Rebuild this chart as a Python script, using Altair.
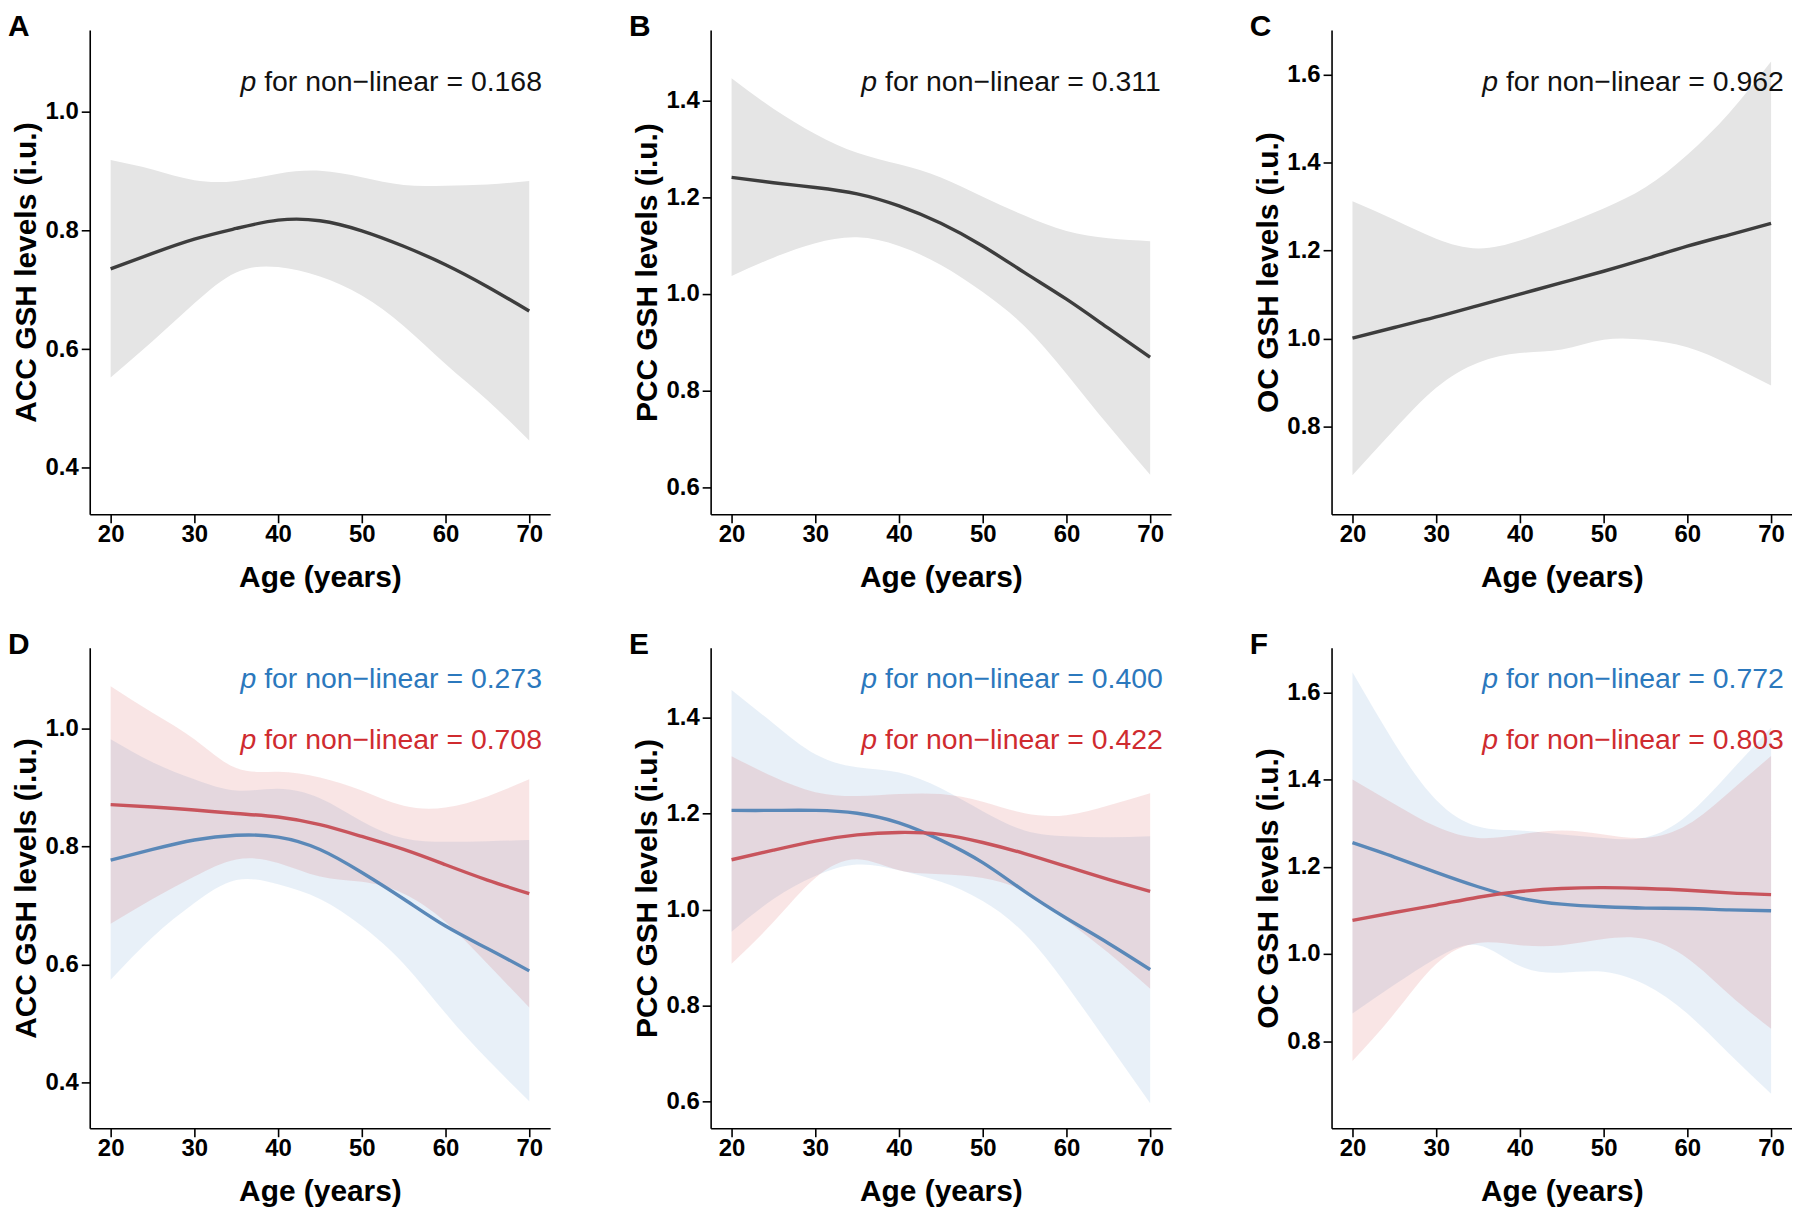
import altair as alt
import pandas as pd

# ---------------- data ----------------
ages = [20, 25, 30, 35, 40, 45, 50, 55, 60, 65, 70]

# Panel A: ACC, all
a_fit = [0.735, 0.761, 0.785, 0.803, 0.817, 0.816, 0.799, 0.773, 0.742, 0.705, 0.664]
a_hi = [0.918, 0.902, 0.884, 0.883, 0.895, 0.900, 0.889, 0.876, 0.875, 0.877, 0.883]
a_lo = [0.552, 0.613, 0.677, 0.729, 0.738, 0.722, 0.690, 0.639, 0.575, 0.514, 0.446]

# Panel B: PCC, all
b_fit = [1.241, 1.230, 1.220, 1.207, 1.182, 1.146, 1.099, 1.044, 0.989, 0.929, 0.869]
b_hi = [1.446, 1.383, 1.331, 1.292, 1.268, 1.241, 1.201, 1.162, 1.130, 1.115, 1.109]
b_lo = [1.037, 1.075, 1.105, 1.117, 1.099, 1.060, 1.004, 0.933, 0.835, 0.728, 0.626]

# Panel C: OC, all
c_fit = [1.001, 1.025, 1.049, 1.075, 1.101, 1.127, 1.153, 1.181, 1.210, 1.236, 1.262]
c_hi = [1.312, 1.270, 1.227, 1.205, 1.223, 1.257, 1.296, 1.344, 1.418, 1.513, 1.630]
c_lo = [0.689, 0.793, 0.888, 0.945, 0.967, 0.975, 0.997, 0.997, 0.980, 0.941, 0.893]

# Panel D: ACC, blue / red groups
d_blue_fit = [0.777, 0.795, 0.811, 0.819, 0.816, 0.795, 0.756, 0.711, 0.665, 0.627, 0.589]
d_blue_hi = [0.982, 0.943, 0.914, 0.895, 0.898, 0.882, 0.843, 0.814, 0.808, 0.809, 0.811]
d_blue_lo = [0.574, 0.646, 0.704, 0.743, 0.736, 0.711, 0.665, 0.601, 0.517, 0.439, 0.368]
d_red_fit = [0.871, 0.867, 0.862, 0.856, 0.850, 0.837, 0.817, 0.795, 0.769, 0.743, 0.720]
d_red_hi = [1.072, 1.027, 0.982, 0.933, 0.927, 0.917, 0.895, 0.869, 0.866, 0.885, 0.914]
d_red_lo = [0.669, 0.711, 0.749, 0.778, 0.772, 0.749, 0.740, 0.720, 0.672, 0.601, 0.527]

# Panel E: PCC, blue / red groups
e_blue_fit = [1.207, 1.207, 1.207, 1.201, 1.181, 1.145, 1.098, 1.038, 0.982, 0.930, 0.875]
e_blue_hi = [1.458, 1.388, 1.324, 1.297, 1.286, 1.253, 1.205, 1.165, 1.153, 1.151, 1.153]
e_blue_lo = [0.954, 1.022, 1.070, 1.094, 1.082, 1.058, 1.018, 0.950, 0.843, 0.720, 0.596]
e_red_fit = [1.104, 1.124, 1.143, 1.156, 1.161, 1.157, 1.140, 1.117, 1.090, 1.063, 1.038]
e_red_hi = [1.320, 1.277, 1.245, 1.237, 1.241, 1.241, 1.225, 1.201, 1.197, 1.217, 1.243]
e_red_lo = [0.887, 0.974, 1.066, 1.105, 1.082, 1.074, 1.066, 1.038, 0.978, 0.910, 0.835]

# Panel F: OC, blue / red groups
f_blue_fit = [1.255, 1.222, 1.187, 1.154, 1.128, 1.114, 1.108, 1.105, 1.104, 1.101, 1.099]
f_blue_hi = [1.646, 1.484, 1.353, 1.292, 1.283, 1.274, 1.266, 1.267, 1.318, 1.415, 1.519]
f_blue_lo = [0.863, 0.929, 0.990, 1.020, 0.972, 0.957, 0.959, 0.929, 0.863, 0.771, 0.679]
f_red_fit = [1.077, 1.095, 1.112, 1.130, 1.143, 1.150, 1.152, 1.150, 1.146, 1.140, 1.136]
f_red_hi = [1.400, 1.344, 1.292, 1.266, 1.274, 1.283, 1.274, 1.266, 1.296, 1.371, 1.454]
f_red_lo = [0.754, 0.863, 0.977, 1.025, 1.020, 1.020, 1.034, 1.034, 0.990, 0.907, 0.828]

x_ticks = [20, 30, 40, 50, 60, 70]
x_domain = [17.5, 72.5]
acc_domain, acc_ticks = [0.322, 1.137], [0.4, 0.6, 0.8, 1.0]
pcc_domain, pcc_ticks = [0.544, 1.546], [0.6, 0.8, 1.0, 1.2, 1.4]
oc_domain, oc_ticks = [0.600, 1.702], [0.8, 1.0, 1.2, 1.4, 1.6]

# annotation texts
p_labels_top = ["for non\u2212linear = 0.168", "for non\u2212linear = 0.311", "for non\u2212linear = 0.962"]
p_y_top = [1.034, 1.419, 1.562]
p_labels_blue = ["for non\u2212linear = 0.273", "for non\u2212linear = 0.400", "for non\u2212linear = 0.772"]
p_labels_red = ["for non\u2212linear = 0.708", "for non\u2212linear = 0.422", "for non\u2212linear = 0.803"]
p_y_blue = [1.069, 1.463, 1.611]
p_y_red = [0.966, 1.336, 1.471]
p_x = 35.5

# ---------------- styling ----------------
FONT = "Liberation Sans"
GREY_LINE = "#3d3d3d"
GREY_BAND = "#e5e5e5"
BLUE_LINE, BLUE_BAND, BLUE_TEXT = "#5a88b8", "#2e78c0", "#2b78bd"
RED_LINE, RED_BAND, RED_TEXT = "#c8545c", "#d02a2a", "#cf2b2f"
BLACK_TEXT = "#111111"
INTERP = "natural"

W = 462
H_TOP = 486
H_BOT = 482


def panel(letter, ytitle, ydomain, yticks, series, notes, height):
    xs = alt.Scale(domain=x_domain, nice=False, zero=False)
    ys = alt.Scale(domain=ydomain, nice=False, zero=False)
    xaxis = alt.Axis(values=x_ticks, title="Age (years)", titleX=W / 2, titleY=72,
                     titleBaseline="alphabetic", format="d")
    yaxis = alt.Axis(values=yticks, title=ytitle, format=".1f", titleX=-54,
                     titleY=height / 2, titleAngle=270, titleBaseline="alphabetic")
    bands, lines = [], []
    for s in series:
        df = pd.DataFrame({"age": ages, "fit": s["fit"], "lo": s["lo"], "hi": s["hi"]})
        bands.append(
            alt.Chart(df).mark_area(color=s["band"], opacity=s["opacity"], interpolate=INTERP)
            .encode(x=alt.X("age:Q", scale=xs, axis=xaxis),
                    y=alt.Y("lo:Q", scale=ys, axis=yaxis),
                    y2="hi:Q")
        )
        lines.append(
            alt.Chart(df).mark_line(color=s["line"], strokeWidth=3.4, interpolate=INTERP)
            .encode(x=alt.X("age:Q", scale=xs, axis=xaxis),
                    y=alt.Y("fit:Q", scale=ys, axis=yaxis))
        )
    texts = []
    for label, y, color in notes:
        nd = pd.DataFrame({"x": [p_x], "y": [y], "p": ["p"], "t": [label]})
        texts.append(
            alt.Chart(nd).mark_text(align="left", baseline="alphabetic", fontSize=28.5,
                                    fontStyle="italic", font=FONT, color=color)
            .encode(x=alt.X("x:Q", scale=xs, axis=xaxis), y=alt.Y("y:Q", scale=ys, axis=yaxis),
                    text="p:N")
        )
        texts.append(
            alt.Chart(nd).mark_text(align="left", baseline="alphabetic", fontSize=28.5,
                                    font=FONT, color=color, dx=23.8)
            .encode(x=alt.X("x:Q", scale=xs, axis=xaxis), y=alt.Y("y:Q", scale=ys, axis=yaxis),
                    text="t:N")
        )
    tag = (
        alt.Chart(pd.DataFrame({"t": [letter]}))
        .mark_text(align="left", baseline="alphabetic", fontSize=30, fontWeight="bold",
                   font=FONT, color="black")
        .encode(x=alt.value(-82), y=alt.value(6), text="t:N")
    )
    return alt.layer(*bands, *lines, *texts, tag).properties(width=W, height=height)


def grey(f, l, h):
    return dict(fit=f, lo=l, hi=h, line=GREY_LINE, band=GREY_BAND, opacity=1.0)


def blue(f, l, h):
    return dict(fit=f, lo=l, hi=h, line=BLUE_LINE, band=BLUE_BAND, opacity=0.11)


def red(f, l, h):
    return dict(fit=f, lo=l, hi=h, line=RED_LINE, band=RED_BAND, opacity=0.12)


pA = panel("A", "ACC GSH levels (i.u.)", acc_domain, acc_ticks, [grey(a_fit, a_lo, a_hi)],
           [(p_labels_top[0], p_y_top[0], BLACK_TEXT)], H_TOP)
pB = panel("B", "PCC GSH levels (i.u.)", pcc_domain, pcc_ticks, [grey(b_fit, b_lo, b_hi)],
           [(p_labels_top[1], p_y_top[1], BLACK_TEXT)], H_TOP)
pC = panel("C", "OC GSH levels (i.u.)", oc_domain, oc_ticks, [grey(c_fit, c_lo, c_hi)],
           [(p_labels_top[2], p_y_top[2], BLACK_TEXT)], H_TOP)

pD = panel("D", "ACC GSH levels (i.u.)", acc_domain, acc_ticks,
           [blue(d_blue_fit, d_blue_lo, d_blue_hi), red(d_red_fit, d_red_lo, d_red_hi)],
           [(p_labels_blue[0], p_y_blue[0], BLUE_TEXT), (p_labels_red[0], p_y_red[0], RED_TEXT)], H_BOT)
pE = panel("E", "PCC GSH levels (i.u.)", pcc_domain, pcc_ticks,
           [blue(e_blue_fit, e_blue_lo, e_blue_hi), red(e_red_fit, e_red_lo, e_red_hi)],
           [(p_labels_blue[1], p_y_blue[1], BLUE_TEXT), (p_labels_red[1], p_y_red[1], RED_TEXT)], H_BOT)
pF = panel("F", "OC GSH levels (i.u.)", oc_domain, oc_ticks,
           [blue(f_blue_fit, f_blue_lo, f_blue_hi), red(f_red_fit, f_red_lo, f_red_hi)],
           [(p_labels_blue[2], p_y_blue[2], BLUE_TEXT), (p_labels_red[2], p_y_red[2], RED_TEXT)], H_BOT)

chart = (
    alt.concat(pA, pB, pC, pD, pE, pF, columns=3, spacing={"row": 134, "column": 161},
               bounds="flush", padding={"left": 0, "top": 2, "right": 0, "bottom": 0})
    .configure(font=FONT)
    .configure_view(stroke=None)
    .configure_axis(
        grid=False,
        domainColor="black", domainWidth=1.6,
        tickColor="black", tickWidth=1.6, tickSize=8.5,
        labelFont=FONT, labelFontSize=24, labelFontWeight="bold", labelColor="black",
        titleFont=FONT, titleFontSize=30, titleFontWeight="bold", titleColor="black",
    )
    .configure_axisX(labelPadding=0)
    .configure_axisY(labelPadding=3)
)

chart.save("out.html", embed_options={"renderer": "svg", "actions": False})
